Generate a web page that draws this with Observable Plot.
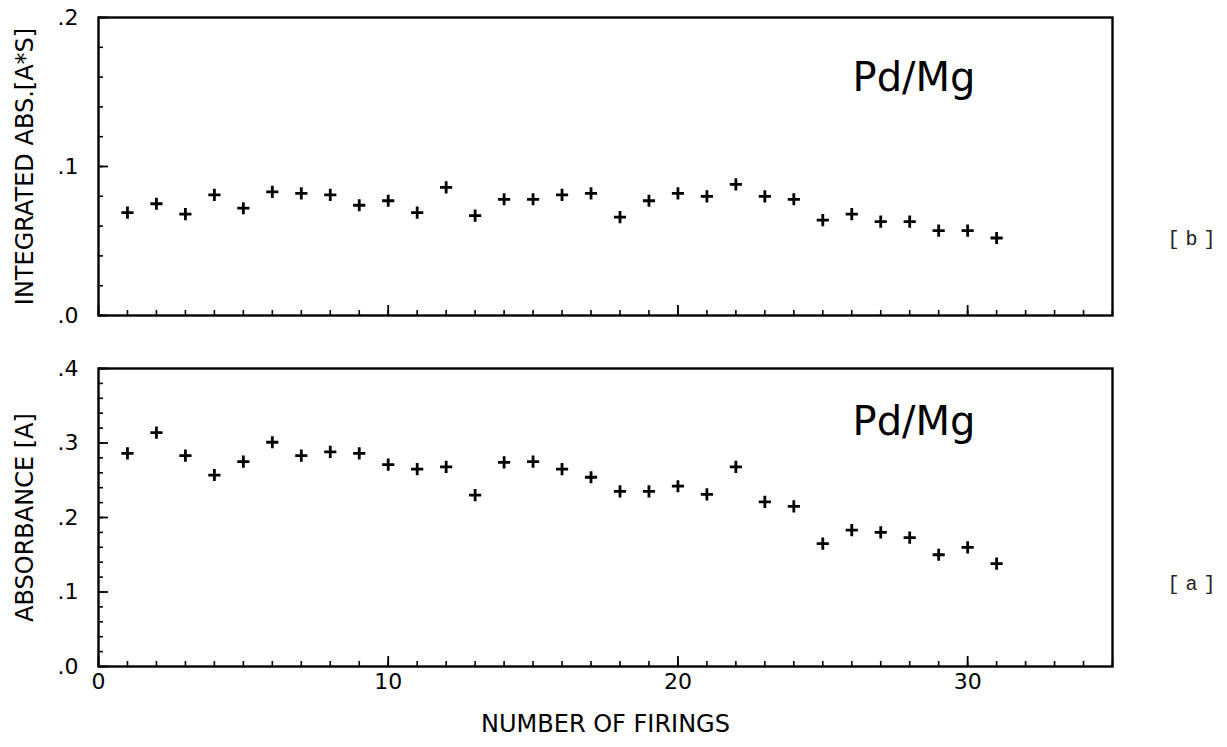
<!DOCTYPE html>
<html>
<head>
<meta charset="utf-8">
<script src="https://cdn.jsdelivr.net/npm/d3@7"></script>
<script src="https://cdn.jsdelivr.net/npm/@observablehq/plot@0.6"></script>
<style>
  body { margin: 0; background: #fff; }
  #chart { position: relative; width: 1227px; height: 747px; background: #fff; }
  #chart svg { position: absolute; left: 0; }
</style>
</head>
<body>
<div id="chart"></div>
<script>
// ---- data ----
const firings = [1, 2, 3, 4, 5, 6, 7, 8, 9, 10, 11, 12, 13, 14, 15, 16, 17, 18, 19, 20, 21, 22, 23, 24, 25, 26, 27, 28, 29, 30, 31];
const integratedAbs = [0.069, 0.075, 0.068, 0.081, 0.072, 0.083, 0.082, 0.081, 0.074, 0.077, 0.069, 0.086, 0.067, 0.078, 0.078, 0.081, 0.082, 0.066, 0.077, 0.082, 0.080, 0.088, 0.080, 0.078, 0.064, 0.068, 0.063, 0.063, 0.057, 0.057, 0.052];
const absorbance = [0.286, 0.314, 0.283, 0.257, 0.275, 0.301, 0.283, 0.288, 0.286, 0.271, 0.265, 0.268, 0.230, 0.274, 0.275, 0.265, 0.254, 0.235, 0.235, 0.242, 0.231, 0.268, 0.221, 0.215, 0.165, 0.183, 0.180, 0.173, 0.150, 0.160, 0.138];

const xDomain = [0, 35];
const xTickLabels = [0, 10, 20, 30];
const topYDomain = [0, 0.2];
const topYTickLabels = [0, 0.1, 0.2];
const bottomYDomain = [0, 0.4];
const bottomYTickLabels = [0, 0.1, 0.2, 0.3, 0.4];
const topTitle = "INTEGRATED ABS.[A*S]";
const bottomTitle = "ABSORBANCE [A]";
const topTag = "[b]";
const bottomTag = "[a]";
const sampleLabel = "Pd/Mg";
const xTitle = "NUMBER OF FIRINGS";

// ---- drawing ----
const fmtY = d => d.toFixed(1).replace(/^0/, "");
const FONT = "DejaVu Sans, sans-serif";
const PLOT_W = 1227, ML = 98, MR = 115;
const innerW = PLOT_W - ML - MR;

function panel({values, yDomain, yLabels, title, tag, height, marginTop, marginBottom, showX, tagDy, labelDy}) {
  const data = firings.map((f, i) => ({f, v: values[i]}));
  const innerH = height - marginTop - marginBottom;
  const xMinor = d3.range(xDomain[0], xDomain[1] + 1, 1);
  const yMinor = d3.range(0, Math.round(yDomain[1] / 0.02) + 1).map(i => +(i * 0.02).toFixed(2));
  const marks = [
    // inward ticks along the bottom edge
    Plot.tickX(xMinor, {x: d => d, insetTop: innerH - 5, stroke: "black", strokeWidth: 1.6}),
    Plot.tickX(xTickLabels, {x: d => d, insetTop: innerH - 10, stroke: "black", strokeWidth: 1.8}),
    // inward ticks along the left edge
    Plot.tickY(yMinor, {y: d => d, insetRight: innerW - 5, stroke: "black", strokeWidth: 1.6}),
    Plot.tickY(yLabels, {y: d => d, insetRight: innerW - 10, stroke: "black", strokeWidth: 1.8}),
    Plot.axisY(yLabels, {tickSize: 0, tickPadding: 20, tickFormat: fmtY, label: null, fontSize: 22}),
    Plot.frame({stroke: "black", strokeWidth: 2.4}),
    Plot.dot(data, {x: "f", y: "v", symbol: "plus", r: 4, stroke: "black", strokeWidth: 2.8}),
    Plot.text([title], {text: d => d, frameAnchor: "left", dx: -73, rotate: -90, textAnchor: "middle", fontSize: 24}),
    Plot.text([sampleLabel], {text: d => d, frameAnchor: "top-right", dx: -137, dy: labelDy, textAnchor: "end", lineAnchor: "bottom", fontSize: 40}),
    Plot.text([tag], {text: d => d, frameAnchor: "right", dx: 55, dy: tagDy, textAnchor: "start", fontFamily: "Liberation Mono, monospace", fontSize: 20, fill: "#222"})
  ];
  if (showX) {
    marks.push(Plot.axisX(xTickLabels, {tickSize: 0, tickPadding: 7, label: null, fontSize: 22}));
    marks.push(Plot.text([xTitle], {text: d => d, frameAnchor: "bottom", dy: 65, textAnchor: "middle", fontSize: 24}));
  }
  const svg = Plot.plot({
    width: PLOT_W,
    height,
    marginLeft: ML,
    marginRight: MR,
    marginTop,
    marginBottom,
    style: {fontFamily: FONT, fontSize: "22px", background: "white", color: "black", overflow: "visible"},
    x: {domain: xDomain, label: null, axis: showX ? undefined : null},
    y: {domain: yDomain, label: null},
    marks
  });
  svg.querySelectorAll("text").forEach(t => {
    if (t.textContent === tag) t.setAttribute("letter-spacing", "6");
  });
  return svg;
}

const chartEl = document.getElementById("chart");
const topPanel = panel({values: integratedAbs, yDomain: topYDomain, yLabels: topYTickLabels, title: topTitle, tag: topTag,
  height: 340, marginTop: 17, marginBottom: 25, showX: false, tagDy: 72, labelDy: 73});
topPanel.style.top = "0px";
const bottomPanel = panel({values: absorbance, yDomain: bottomYDomain, yLabels: bottomYTickLabels, title: bottomTitle, tag: bottomTag,
  height: 407, marginTop: 28, marginBottom: 81, showX: true, tagDy: 66, labelDy: 66});
bottomPanel.style.top = "340px";
chartEl.appendChild(topPanel);
chartEl.appendChild(bottomPanel);
</script>
</body>
</html>
